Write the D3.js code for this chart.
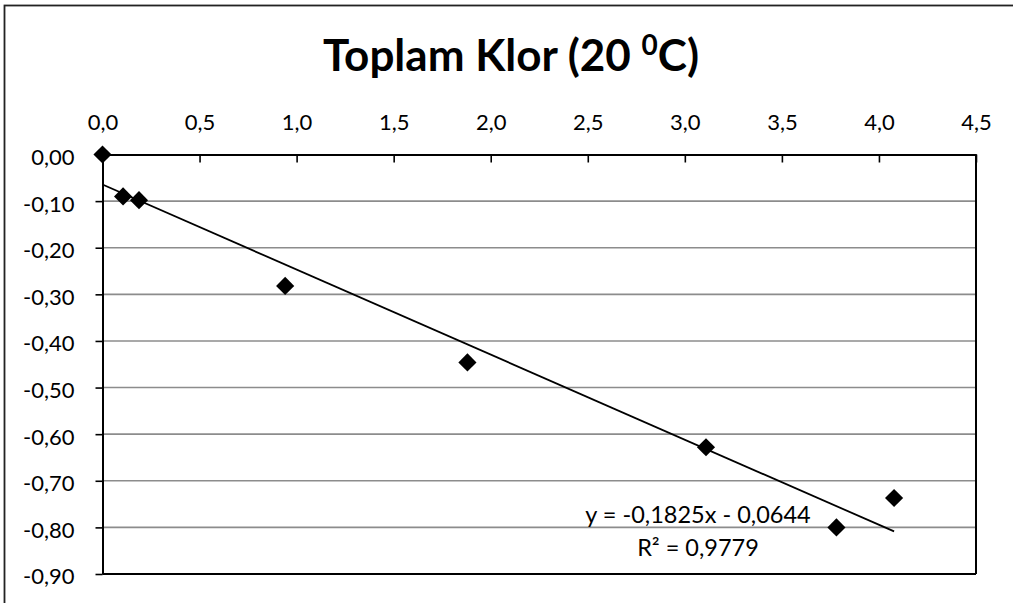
<!DOCTYPE html>
<html>
<head>
<meta charset="utf-8">
<script src="https://cdn.jsdelivr.net/npm/d3@7"></script>
<style>
  body { margin: 0; background: #fff; }
  svg { display: block; font-family: Lato, "Open Sans", sans-serif; }
</style>
</head>
<body>
<svg width="1013" height="603"></svg>
<script>
// concentration (x) vs. measured value (y)
const xValues = [0, 0.106, 0.188, 0.941, 1.880, 3.109, 3.781, 4.078];
const yValues = [0, -0.090, -0.098, -0.282, -0.446, -0.628, -0.800, -0.737];
const xTicks = [0, 0.5, 1, 1.5, 2, 2.5, 3, 3.5, 4, 4.5];
const yTicks = [0, -0.1, -0.2, -0.3, -0.4, -0.5, -0.6, -0.7, -0.8, -0.9];
const slope = -0.1825;
const intercept = -0.0644;
const rSquared = 0.9779;

const svg = d3.select("svg");
const plotLeft = 102.5, plotRight = 976, plotTop = 154.5, plotBottom = 574;

const locale = d3.formatLocale({ decimal: ",", thousands: ".", grouping: [3], currency: ["", ""], minus: "-" });
const fx = locale.format(".1f");
const fy = locale.format(".2f");
const f4 = locale.format(".4f");

const xScale = d3.scaleLinear().domain([0, 4.5]).range([plotLeft, plotRight]);
const yScale = d3.scaleLinear().domain([0, -0.9]).range([plotTop, plotBottom]);

// outer chart frame
svg.append("rect")
  .attr("x", 4.5).attr("y", 5.5)
  .attr("width", 1040).attr("height", 640)
  .attr("fill", "none").attr("stroke", "#222").attr("stroke-width", 1.8);

// title
const title = svg.append("text")
  .attr("x", 511).attr("y", 71)
  .attr("text-anchor", "middle")
  .attr("font-size", 44).attr("font-weight", "bold");
title.append("tspan").text("Toplam Klor (20 ");
title.append("tspan").attr("font-size", 28).attr("dy", -16).text("0");
title.append("tspan").attr("dy", 16).text("C)");

// gridlines
svg.append("g")
  .selectAll("line")
  .data(yTicks.slice(1, -1))
  .join("line")
  .attr("x1", plotLeft).attr("x2", plotRight)
  .attr("y1", (d) => yScale(d)).attr("y2", (d) => yScale(d))
  .attr("stroke", "#8c8c8c").attr("stroke-width", 1.6);

// plot border (bottom and right)
svg.append("line").attr("x1", plotLeft).attr("x2", plotRight).attr("y1", plotBottom).attr("y2", plotBottom)
  .attr("stroke", "#000").attr("stroke-width", 2);
svg.append("line").attr("x1", plotRight).attr("x2", plotRight).attr("y1", plotTop).attr("y2", plotBottom)
  .attr("stroke", "#000").attr("stroke-width", 2);

// x axis on top, ticks pointing down into the plot
const xAxis = d3.axisTop(xScale).tickValues(xTicks).tickFormat(fx).tickSizeInner(-8).tickSizeOuter(0).tickPadding(25);
const gx = svg.append("g").attr("transform", `translate(0,${plotTop})`).call(xAxis);

// y axis
const yAxis = d3.axisLeft(yScale).tickValues(yTicks).tickFormat(fy).tickSizeInner(7).tickSizeOuter(0).tickPadding(21);
const gy = svg.append("g").attr("transform", `translate(${plotLeft},0)`).call(yAxis);

[gx, gy].forEach((g) => {
  g.select(".domain").attr("stroke", "#000").attr("stroke-width", 2);
  g.selectAll(".tick line").attr("stroke", "#000").attr("stroke-width", 1.6);
  g.selectAll(".tick text").attr("font-size", 22).attr("fill", "#000").attr("font-family", "Lato, sans-serif");
});
gy.selectAll(".tick text").attr("dy", "0.45em");

// trendline
const xMax = d3.max(xValues);
svg.append("line")
  .attr("x1", xScale(0)).attr("y1", yScale(intercept))
  .attr("x2", xScale(xMax)).attr("y2", yScale(slope * xMax + intercept))
  .attr("stroke", "#000").attr("stroke-width", 1.8);

// points
const diamond = d3.symbol().type(d3.symbolSquare).size(165);
svg.append("g")
  .selectAll("path")
  .data(xValues.map((x, i) => ({ x, y: yValues[i] })))
  .join("path")
  .attr("d", diamond)
  .attr("transform", (d) => `translate(${xScale(d.x)},${yScale(d.y)}) rotate(45)`)
  .attr("fill", "#000");

// equation label
const eq = svg.append("g").attr("font-size", 23.5).attr("text-anchor", "middle");
eq.append("text").attr("x", 698).attr("y", 523)
  .text(`y = ${f4(slope)}x - ${f4(-intercept)}`);
eq.append("text").attr("x", 698).attr("y", 556)
  .text(`R² = ${f4(rSquared)}`);
</script>
</body>
</html>
